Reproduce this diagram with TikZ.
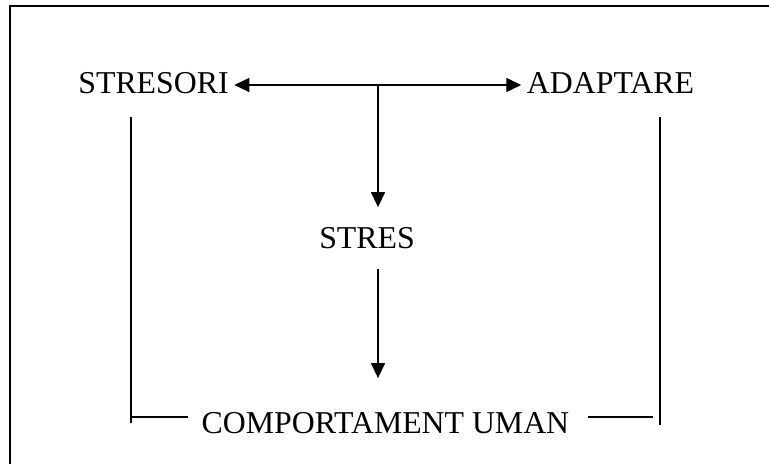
\documentclass[tikz,border=0pt]{standalone}
\usepackage{fontspec}
\setmainfont{Liberation Serif}
\usetikzlibrary{arrows.meta, calc, positioning}

\begin{document}
\begin{tikzpicture}[thick, >={Triangle[length=0.3cm, width=0.28cm]},
  lbl/.style={font=\fontsize{18.1}{22}\selectfont, inner sep=0.1cm}]
\useasboundingbox (0,0) rectangle (15.38,9.28);
\draw[line width=1.1pt] (0.2,0) |- (15.38,9.16);
\node[lbl] (str) at (3.07,7.61) {STRESORI};
\node[lbl] (ada) at (12.21,7.61) {ADAPTARE};
\node[lbl, inner ysep=0.39cm] (stres) at (7.34,4.52) {STRES};
\node[lbl, inner xsep=0.26cm] (cu) at (7.71,0.82) {COMPORTAMENT UMAN};
\coordinate (j) at (7.56,7.58);
\coordinate (lt) at (2.62,6.94); \coordinate (lb) at (2.62,0.82);
\coordinate (rt) at (13.2,6.94); \coordinate (rb) at (13.2,0.78);
\coordinate (lh) at (2.62,0.94); \coordinate (rh) at (13.06,0.94);
\draw [<->] (j -| str.east) -- (j -| ada.west);
\draw [->] (j) -- (j |- stres.north);
\draw [->, shorten >=0.57cm] (j |- stres.south) -- (j |- cu.north);
\draw (lt) -- (lb); \draw (rt) -- (rb);
\draw (lh) -- (lh -| cu.west); \draw [shorten >=0.1cm] (rh) -- (rh -| cu.east);
\end{tikzpicture}
\end{document}
